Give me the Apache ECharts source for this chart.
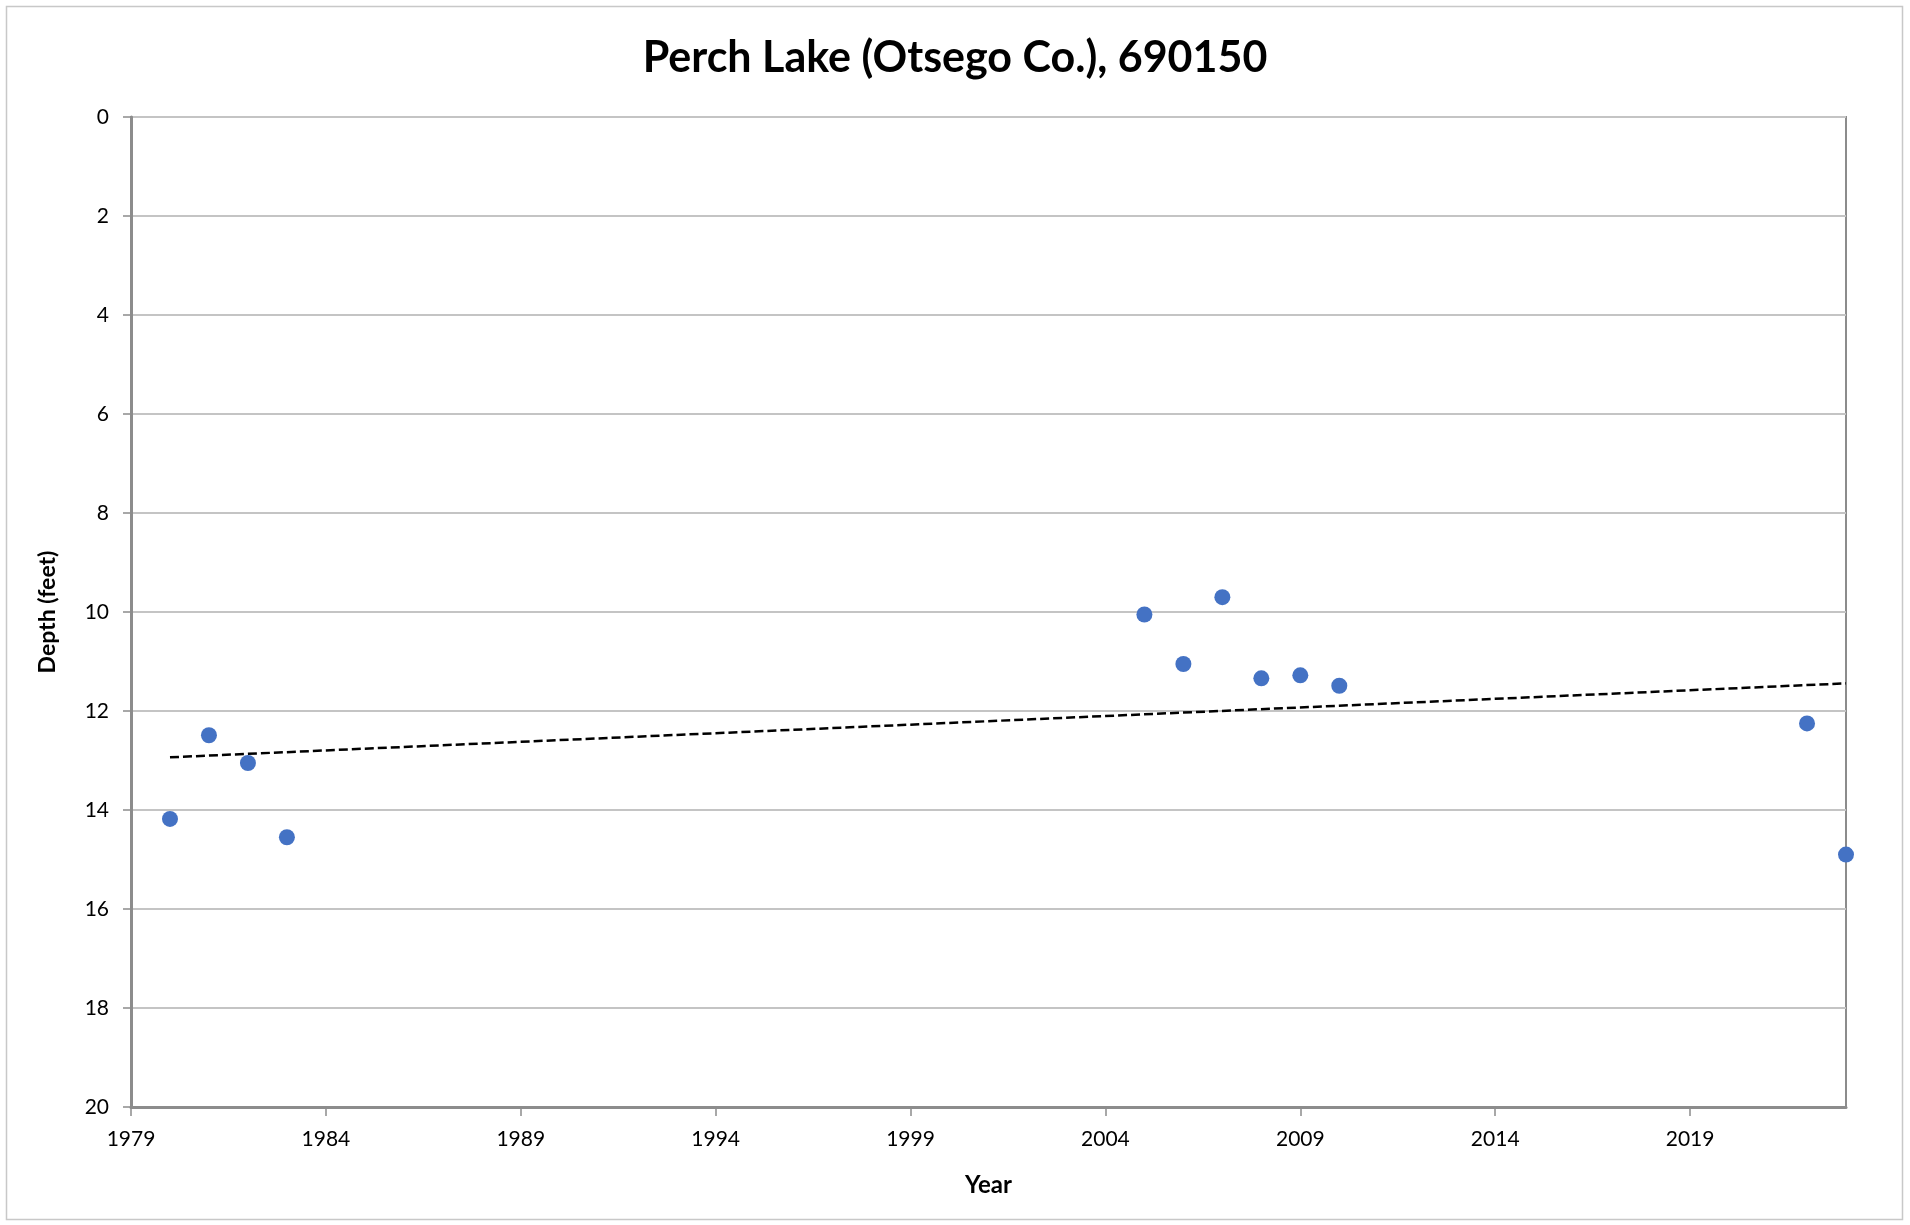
<!DOCTYPE html>
<html>
<head>
<meta charset="utf-8">
<script src="https://cdn.jsdelivr.net/npm/echarts@6/dist/echarts.min.js"></script>
<style>
  html, body { margin: 0; padding: 0; background: #fff; }
  #chart { width: 1910px; height: 1225px; }
</style>
</head>
<body>
<div id="chart"></div>
<script>
  // sample years and Secchi depth readings (feet)
  var years = [1980, 1981, 1982, 1983, 2005, 2006, 2007, 2008, 2009, 2010, 2022, 2023];
  var depths = [14.18, 12.49, 13.05, 14.55, 10.05, 11.05, 9.70, 11.34, 11.28, 11.49, 12.25, 14.90];

  // linear trend line (least squares), like Excel's trendline
  var n = years.length, mx = 0, my = 0;
  for (var i = 0; i < n; i++) { mx += years[i]; my += depths[i]; }
  mx /= n; my /= n;
  var sxy = 0, sxx = 0;
  for (var i = 0; i < n; i++) {
    sxy += (years[i] - mx) * (depths[i] - my);
    sxx += (years[i] - mx) * (years[i] - mx);
  }
  var slope = sxy / sxx, icpt = my - slope * mx;
  var x0 = years[0], x1 = years[n - 1];
  var trend = [[x0, icpt + slope * x0], [x1, icpt + slope * x1]];

  var font = 'Lato';
  var chart = echarts.init(document.getElementById('chart'));
  chart.setOption({
    animation: false,
    backgroundColor: '#fff',
    title: {
      text: 'Perch Lake (Otsego Co.), 690150',
      left: 'center',
      top: 32,
      textStyle: { fontFamily: font, fontWeight: 'bold', fontSize: 43, color: '#000' }
    },
    graphic: [{
      type: 'rect',
      shape: { x: 6.5, y: 6.5, width: 1896, height: 1213 },
      style: { fill: 'none', stroke: '#c8c8c8', lineWidth: 1.5 },
      silent: true
    }],
    grid: {
      left: 131, right: 64, top: 117, bottom: 118,
      show: true, borderColor: '#8c8c8c', borderWidth: 2
    },
    xAxis: {
      type: 'value',
      min: 1979, max: 2023, interval: 5,
      name: 'Year', nameLocation: 'middle', nameGap: 66,
      nameTextStyle: { fontFamily: font, fontWeight: 'bold', fontSize: 24, color: '#000' },
      axisLine: { show: true, onZero: false, lineStyle: { color: '#8c8c8c', width: 3 } },
      axisTick: { show: true, length: 9, lineStyle: { color: '#8c8c8c', width: 1.5 } },
      axisLabel: {
        fontFamily: font, fontSize: 21, color: '#000', margin: 22, showMaxLabel: false,
        formatter: function (v) { return String(v); }
      },
      splitLine: { show: false }
    },
    yAxis: {
      type: 'value',
      inverse: true,
      min: 0, max: 20, interval: 2,
      name: 'Depth (feet)', nameLocation: 'middle', nameGap: 72, nameRotate: 90,
      nameTextStyle: { fontFamily: font, fontWeight: 'bold', fontSize: 23, color: '#000' },
      axisLine: { show: true, lineStyle: { color: '#8c8c8c', width: 3 } },
      axisTick: { show: true, length: 8, lineStyle: { color: '#8c8c8c', width: 1.5 } },
      axisLabel: { fontFamily: font, fontSize: 21, color: '#000', margin: 22 },
      splitLine: { show: true, lineStyle: { color: '#c4c4c4', width: 2 } }
    },
    series: [
      {
        type: 'line',
        data: trend,
        symbol: 'none',
        lineStyle: { color: '#000', width: 2.5, type: [9, 4] },
        z: 2
      },
      {
        type: 'scatter',
        data: years.map(function (y, k) { return [y, depths[k]]; }),
        symbolSize: 16,
        itemStyle: { color: '#4472C4', opacity: 1 },
        z: 3
      }
    ]
  });
</script>
</body>
</html>
